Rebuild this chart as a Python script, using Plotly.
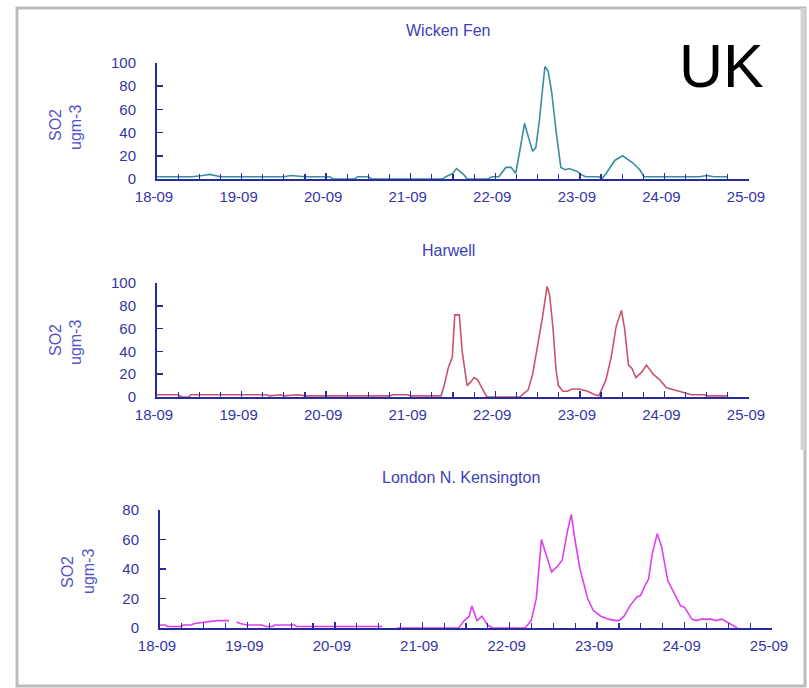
import pandas as pd
import plotly.graph_objects as go

# ---------------- data (hours after 18-09 00:00, SO2 ugm-3) ----------------
wicken_hours = [0, 10, 13, 15, 18, 24, 36, 38, 42, 49, 50, 56, 57, 60, 61, 81, 82, 84, 85, 87, 88,
                94, 95, 97, 99, 100.5, 101.8, 103, 104.3, 105.5, 106.6, 107.5, 108.5, 109.5, 110.1,
                111, 112, 113.3, 114.6, 115.8, 117, 117.8, 119, 120.3, 121.6, 125.4, 126.2, 127.5,
                129.9, 132.1, 135, 137, 138.2, 145, 150, 154, 156, 158, 162]
wicken_so2 = [2, 2, 3, 4, 2, 2, 2, 3, 2, 2, 0, 0, 2, 2, 0, 0, 2, 5, 9, 4, 0,
              0, 2, 2, 10, 10, 5, 25, 48, 35, 24, 27, 50, 80, 97,
              93, 75, 40, 10, 8, 9, 8, 7, 4, 2, 2, 0, 5,
              16, 20, 14, 8, 2, 2, 2, 2, 3, 2, 2]

harwell_hours = [0, 6, 7, 9, 9.6, 20, 31, 32, 35, 36, 40, 42, 66, 67, 71, 72, 80.6, 81.5, 82.6, 83.8,
                 84.5, 85.8, 86.6, 88, 89, 90, 91, 92.2, 93.4, 94, 103, 103.7, 105.3, 106.6, 108.4,
                 109.4, 110.7, 111.4, 112.4, 113.2, 113.9, 115.2, 116.5, 117.8, 119.7, 122.2, 124.2,
                 125.4, 127.4, 128.9, 130.3, 131.8, 132.7, 133.8, 134.8, 135.9, 137.6, 138.9, 140.8,
                 142.7, 144.6, 147.2, 149.8, 151.7, 155.5, 156, 162]
harwell_so2 = [2, 2, 0, 0, 2, 2, 2, 1, 2, 1, 2, 1, 1, 2, 2, 1, 1, 10, 25, 35,
               72, 72, 40, 10, 13, 17, 15, 8, 1, 0, 0, 2, 6, 20, 50,
               70, 97, 90, 60, 25, 10, 5, 5, 7, 7, 5, 2,
               1, 15, 35, 62, 76, 60, 28, 25, 17, 22, 28, 20,
               15, 8, 6, 4, 2, 2, 1, 1]

london_hours = [0, 1.4, 2, 5.7, 6.4, 8.5, 9.5, 12.7, 14, 15.6, 19, 19.8, 21, 22, 24, 28, 29, 31, 31.5,
                37, 37.5, 61, 62, 63.5, 64.5, 65, 82, 83.5, 84.9, 85.6, 87, 88.4, 89.9, 91.3, 100.2,
                101.9, 103.3, 104.7, 106, 107.5, 109.2, 110.4, 111.8, 112.9, 113.9, 115.3, 117.4,
                118.9, 121, 123.1, 125.2, 126, 127.4, 129, 130.9, 131.9, 133, 134.1, 135.1, 136.5,
                137.7, 139.4, 141.5, 142.9, 144, 146, 147.2, 148.6, 151.4, 152.5, 154.2, 155.6, 157,
                158.5]
london_so2 = [2, 2, 1, 1, 2, 2, 3, 4, 4, 5, 5, None, 4, 3, 2, 2, 1, 1, 2,
              2, 1, 1, None, 1, None, 0, 0, 5, 8, 15, 5, 8, 2, 0, 0,
              5, 20, 60, 50, 38, 42, 46, 65, 77, 60, 40, 20,
              12, 8, 6, 5, 5, 8, 15, 21, 22, 28, 33, 50, 64,
              55, 32, 22, 15, 14, 6, 5, 6, 6, 5, 6, 4, 2,
              0]

station_names = ["Wicken Fen", "Harwell", "London N. Kensington"]
line_colors = ["#3a8d9e", "#c85470", "#dd40f0"]
y_ranges = [[0, 100], [0, 100], [0, 80]]
x_start, x_end = "2002-09-18", "2002-09-25"

# ---------------- layout helpers ----------------
W, H = 809, 688
def px(x): return x / W
def py(y): return 1 - y / H

AXIS = "#2b2ba0"
TICKC = "#3535aa"
TITLEC = "#4040b8"
FONT = "Liberation Sans, Arial, sans-serif"

start = pd.Timestamp(x_start)
series = [(wicken_hours, wicken_so2), (harwell_hours, harwell_so2), (london_hours, london_so2)]

# panel geometry in pixels: x0, x1, ytop, ybottom
panels = [(157, 749, 63, 179), (157, 749, 283, 397), (160, 772, 510, 628)]
title_pos = [(448, 31), (448, 250), (461, 477)]
ytitle_pos = [((55, 125), (75, 128)), ((55, 340), (75, 343)), ((67, 572), (88, 572))]

fig = go.Figure()
annotations = []
for i, ((hrs, vals), name, col, yr) in enumerate(zip(series, station_names, line_colors, y_ranges)):
    t = [start + pd.Timedelta(hours=h) for h in hrs]
    sfx = "" if i == 0 else str(i + 1)
    fig.add_trace(go.Scatter(x=t, y=vals, mode="lines", line=dict(color=col, width=1.6),
                             xaxis="x" + sfx, yaxis="y" + sfx, showlegend=False,
                             connectgaps=False, hoverinfo="skip"))
    x0, x1, yt, yb = panels[i]
    fig.layout["xaxis" + sfx] = dict(
        domain=[px(x0), px(x1)], anchor="y" + sfx, range=[x_start, x_end], type="date",
        tickformat="%d-%m", dtick=86400000, tick0=x_start, ticks="inside", ticklen=6,
        tickwidth=1.5, tickcolor=AXIS, showline=True, linecolor=AXIS, linewidth=2,
        showgrid=False, zeroline=False, ticklabelstandoff=3, ticklabelshift=-3,
        automargin=False,
        tickfont=dict(family=FONT, size=15, color=TICKC),
        minor=dict(dtick=21600000, tick0=x_start, ticks="inside", ticklen=5, tickwidth=1.2,
                   tickcolor=AXIS, showgrid=False),
    )
    fig.layout["yaxis" + sfx] = dict(
        domain=[py(yb), py(yt)], anchor="x" + sfx, range=yr, dtick=20, ticks="inside",
        ticklen=6, tickwidth=1.5, tickcolor=AXIS, showline=True, linecolor=AXIS, linewidth=2,
        showgrid=False, zeroline=False, ticklabelstandoff=16, automargin=False,
        tickfont=dict(family=FONT, size=15, color=TICKC),
    )
    tx, ty = title_pos[i]
    annotations.append(dict(text=name, x=px(tx), y=py(ty), xref="paper", yref="paper",
                            showarrow=False, xanchor="center", yanchor="middle",
                            font=dict(family=FONT, size=16, color=TITLEC)))
    (ax1, ay1), (ax2, ay2) = ytitle_pos[i]
    for txt, ax, ay in (("SO2", ax1, ay1), ("ugm-3", ax2, ay2)):
        annotations.append(dict(text=txt, x=px(ax), y=py(ay), xref="paper", yref="paper",
                                showarrow=False, textangle=-90, xanchor="center",
                                yanchor="middle",
                                font=dict(family=FONT, size=16, color="#5252c8")))

annotations.append(dict(text="UK", x=px(721), y=py(66), xref="paper", yref="paper",
                        showarrow=False, xanchor="center", yanchor="middle",
                        font=dict(family=FONT, size=61, color="#000000")))

shapes = [
    dict(type="rect", xref="paper", yref="paper", x0=px(17), x1=px(805), y0=py(686), y1=py(8),
         line=dict(color="#bcbcbc", width=3), layer="below"),
    dict(type="line", xref="paper", yref="paper", x0=px(803), x1=px(803), y0=py(450), y1=py(8),
         line=dict(color="#d4d4d4", width=5), layer="below"),
]

fig.update_layout(width=W, height=H, margin=dict(l=0, r=0, t=0, b=0, pad=0, autoexpand=False),
                  paper_bgcolor="white", plot_bgcolor="rgba(0,0,0,0)",
                  annotations=annotations, shapes=shapes, showlegend=False)

fig.write_html("out.html", config={"displayModeBar": False, "staticPlot": True},
               post_script="document.body.style.margin='0';"
                           "document.body.style.padding='0';"
                           "document.body.style.overflow='hidden';")
